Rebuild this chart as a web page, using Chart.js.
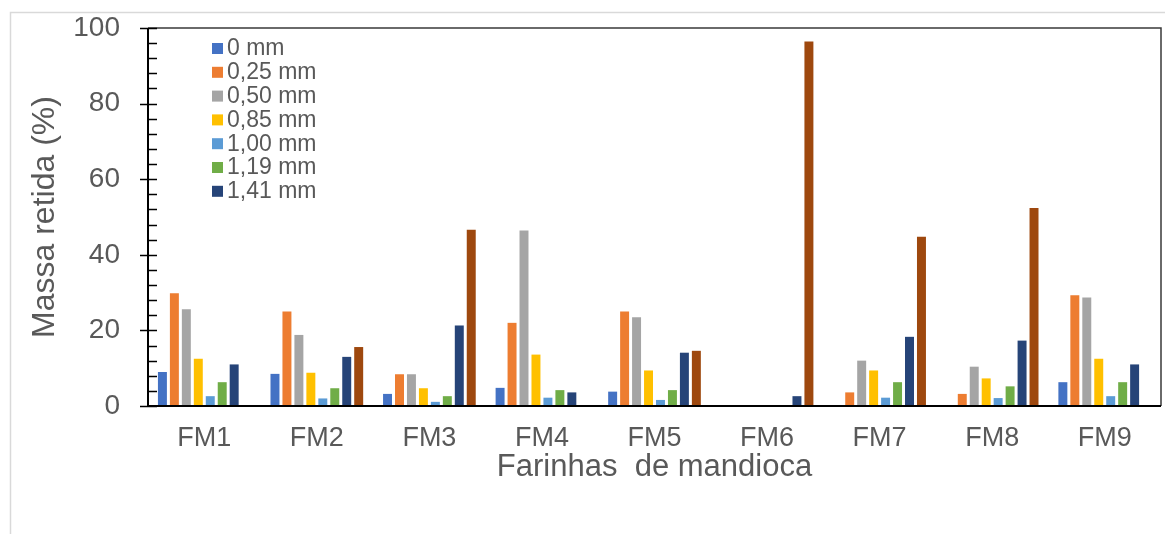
<!DOCTYPE html>
<html>
<head>
<meta charset="utf-8">
<script src="https://cdn.jsdelivr.net/npm/chart.js@4.4.1/dist/chart.umd.min.js"></script>
<style>
  html, body { margin: 0; padding: 0; background: #ffffff; }
  #wrap { position: relative; width: 1165px; height: 534px; }
</style>
</head>
<body>
<div id="wrap"><canvas id="c" width="1165" height="534"></canvas></div>
<script>
// ---- data ----
const categories = ['FM1', 'FM2', 'FM3', 'FM4', 'FM5', 'FM6', 'FM7', 'FM8', 'FM9'];
const seriesLabels = ['0 mm', '0,25 mm', '0,50 mm', '0,85 mm', '1,00 mm', '1,19 mm', '1,41 mm', ''];
const s000 = [9.0, 8.5, 3.2, 4.8, 3.8, 0, 0, 0, 6.3];
const s025 = [29.8, 25.0, 8.4, 22.0, 25.0, 0, 3.6, 3.2, 29.3];
const s050 = [25.6, 18.8, 8.4, 46.4, 23.5, 0, 12.0, 10.4, 28.7];
const s085 = [12.5, 8.8, 4.7, 13.6, 9.4, 0, 9.4, 7.3, 12.5];
const s100 = [2.6, 2.0, 1.1, 2.2, 1.6, 0, 2.2, 2.1, 2.6];
const s119 = [6.3, 4.7, 2.6, 4.2, 4.2, 0, 6.3, 5.2, 6.3];
const s141 = [11.0, 13.0, 21.3, 3.6, 14.1, 2.6, 18.3, 17.3, 11.0];
const s8th = [0, 15.6, 46.6, 0, 14.6, 96.4, 44.8, 52.4, 0];
const yTicks = [0, 20, 40, 60, 80, 100];

const seriesValues = [s000, s025, s050, s085, s100, s119, s141, s8th];
const colors = ['#4472C4', '#ED7D31', '#A5A5A5', '#FFC000', '#5B9BD5', '#70AD47', '#264478', '#9E480E'];

const TXT = '#595959';
const FONT = "'Liberation Sans', Arial, sans-serif";

const datasets = seriesValues.map((v, i) => ({
  label: seriesLabels[i],
  data: v,
  backgroundColor: colors[i],
  borderWidth: 0,
  categoryPercentage: 0.85,
  barPercentage: 0.75
}));

const framePlugin = {
  id: 'frame',
  beforeDraw(chart) {
    const ctx = chart.ctx;
    ctx.save();
    ctx.fillStyle = '#ffffff';
    ctx.fillRect(0, 0, chart.width, chart.height);
    ctx.strokeStyle = '#d9d9d9';
    ctx.lineWidth = 1.5;
    ctx.beginPath();
    ctx.moveTo(10.5, chart.height);
    ctx.lineTo(10.5, 12.5);
    ctx.lineTo(chart.width, 12.5);
    ctx.stroke();
    ctx.restore();
  },
  afterDatasetsDraw(chart) {
    const ctx = chart.ctx;
    const a = chart.chartArea;
    const y = chart.scales.y;
    ctx.save();
    ctx.strokeStyle = '#3a3a3a';
    ctx.lineWidth = 1.5;
    ctx.beginPath();
    ctx.moveTo(a.left, a.top);
    ctx.lineTo(a.right, a.top);
    ctx.lineTo(a.right, a.bottom);
    ctx.stroke();
    ctx.strokeStyle = '#000000';
    ctx.lineWidth = 2;
    ctx.beginPath();
    ctx.moveTo(a.left, a.top);
    ctx.lineTo(a.left, a.bottom);
    ctx.lineTo(a.right, a.bottom);
    ctx.stroke();
    ctx.lineWidth = 1.5;
    ctx.beginPath();
    for (let v = 0; v <= 100; v += 4) {
      const py = Math.round(y.getPixelForValue(v)) + 0.5;
      const major = v % 20 === 0;
      ctx.moveTo(major ? a.left - 8 : a.left, py);
      ctx.lineTo(a.left + 9, py);
    }
    ctx.stroke();
    ctx.restore();
  },
  afterDraw(chart) {
    const ctx = chart.ctx;
    ctx.save();
    ctx.font = '23px ' + FONT;
    ctx.textBaseline = 'middle';
    ctx.textAlign = 'left';
    let row = 0;
    chart.data.datasets.forEach((ds) => {
      if (!ds.label) return;
      const cy = 48 + row * 23.8;
      ctx.fillStyle = ds.backgroundColor;
      ctx.fillRect(212, cy - 5, 11, 11);
      ctx.fillStyle = TXT;
      ctx.fillText(ds.label, 227, cy + 1);
      row++;
    });
    ctx.restore();
  }
};

new Chart(document.getElementById('c'), {
  type: 'bar',
  data: { labels: categories, datasets },
  options: {
    responsive: false,
    animation: false,
    layout: { padding: { top: 28, right: 4, left: 0, bottom: 0 } },
    plugins: { legend: { display: false }, tooltip: { enabled: false } },
    scales: {
      x: {
        grid: { display: false, drawTicks: false },
        border: { display: false },
        ticks: { color: TXT, font: { family: FONT, size: 27 }, padding: 16 },
        title: { display: true, text: 'Farinhas  de mandioca', color: TXT,
                 font: { family: FONT, size: 31 }, padding: { bottom: 48 } },
        afterFit(s) { s.height = 128; s.paddingLeft = 0; s.paddingRight = 0; }
      },
      y: {
        min: 0, max: 100,
        afterBuildTicks(s) { s.ticks = yTicks.map(v => ({ value: v })); },
        grid: { display: false, drawTicks: false },
        border: { display: false },
        ticks: { color: TXT, font: { family: FONT, size: 28 }, padding: 28 },
        title: { display: true, text: 'Massa retida (%)', color: TXT,
                 font: { family: FONT, size: 32 }, padding: { top: 26 } },
        afterFit(s) { s.width = 148; s.paddingTop = 0; s.paddingBottom = 0; }
      }
    }
  },
  plugins: [framePlugin]
});
</script>
</body>
</html>
